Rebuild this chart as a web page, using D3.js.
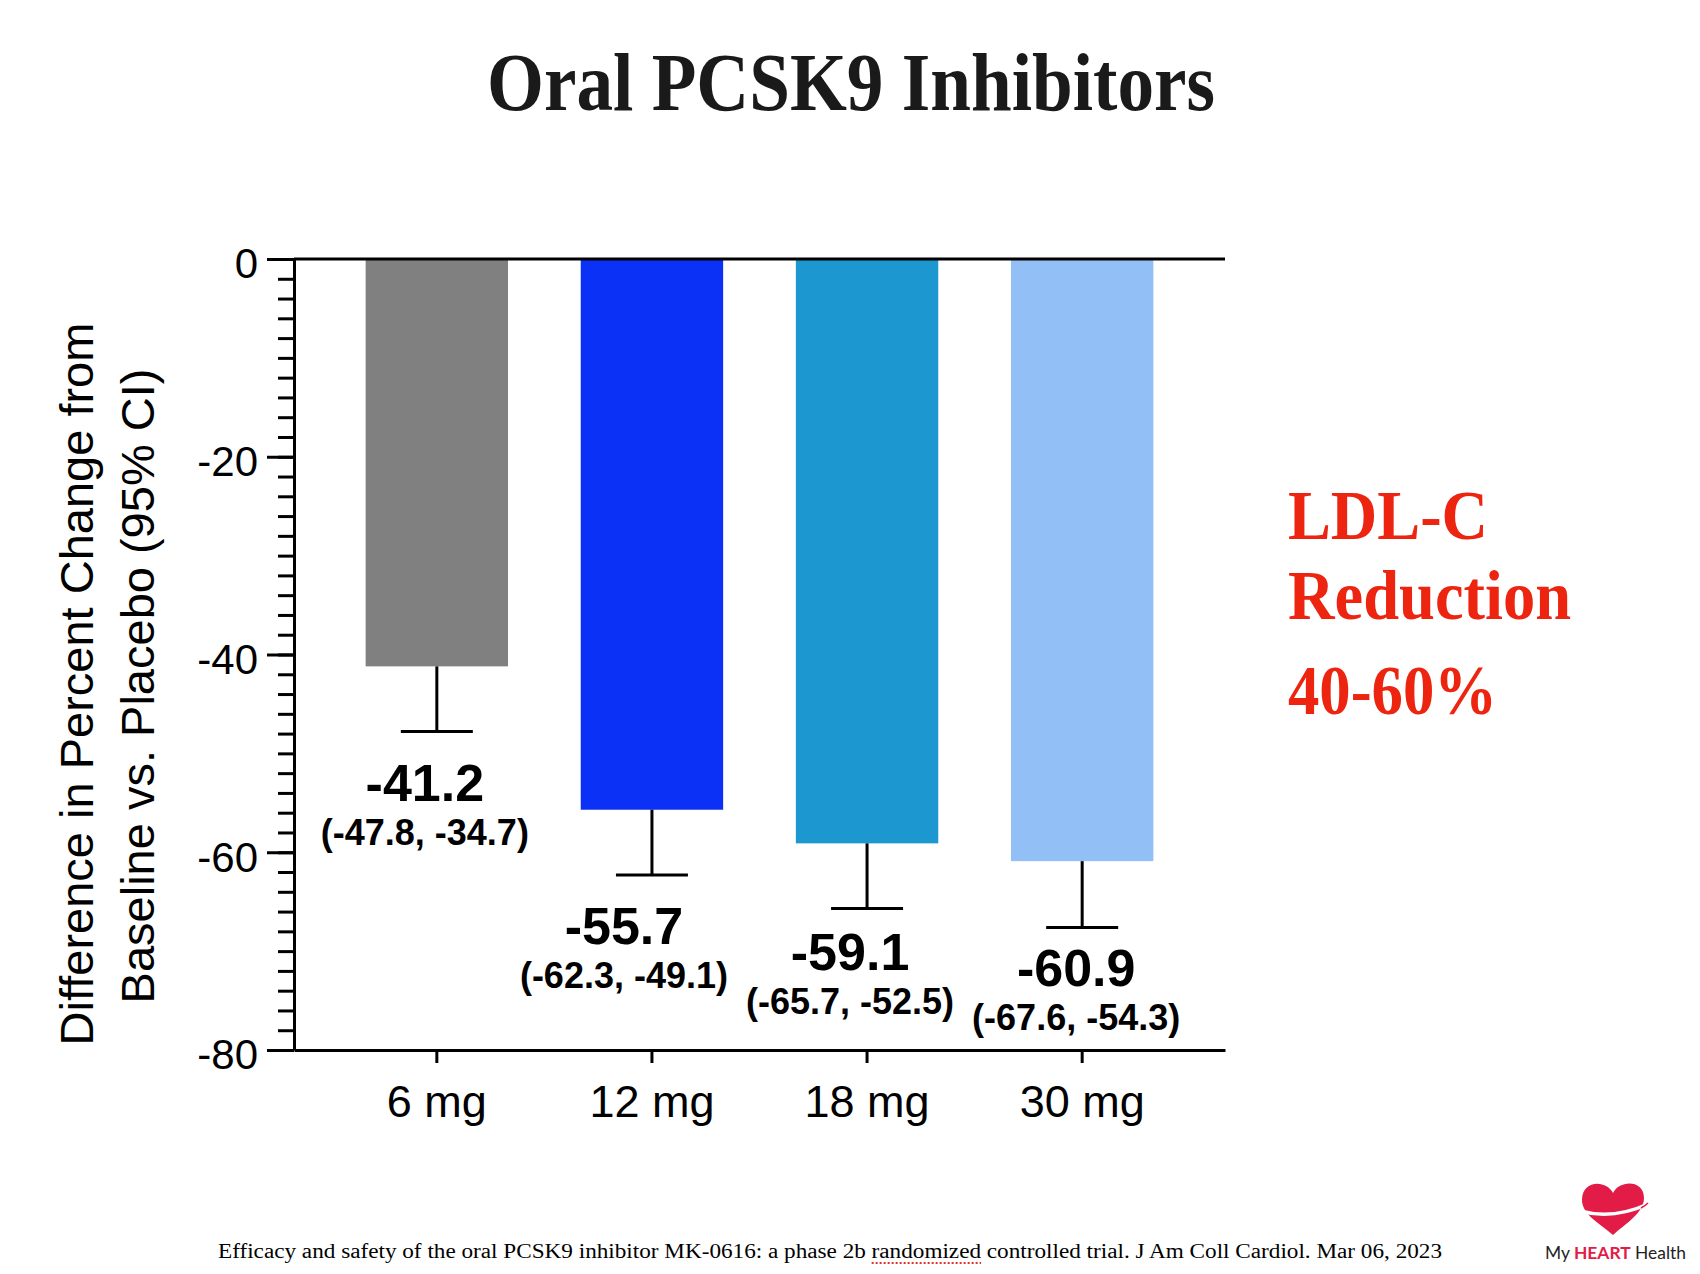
<!DOCTYPE html>
<html lang="en">
<head>
  <meta charset="UTF-8">
  <title>Oral PCSK9 Inhibitors</title>
  <style>
    body, html {
      margin: 0;
      padding: 0;
      background: #fff;
    }
    svg {
      display: block;
    }
  </style>
</head>
<body>
  <svg id="svg" width="1700" height="1274"></svg>

  <script src="https://cdn.jsdelivr.net/npm/d3@7"></script>
  <script>
    // data
    const doses = ['6 mg', '12 mg', '18 mg', '30 mg'];
    const meanDiff = [-41.2, -55.7, -59.1, -60.9];
    const ciLower = [-47.8, -62.3, -65.7, -67.6];
    const ciUpper = [-34.7, -49.1, -52.5, -54.3];
    const yTicks = [0, -20, -40, -60, -80];
    const yDomain = [-80, 0];

    const barColors = ['#808080', '#0b30f6', '#1c97cf', '#93bff7'];
    // small nudges for the value labels, as placed on the slide
    const labelDx = [-12, -28, -17, -6];
    const labelDy = [69, 69, 61, 59];

    const sans = "'Liberation Sans', Arial, sans-serif";
    const serif = "'Liberation Serif', 'Times New Roman', serif";

    const svg = d3.select('#svg');

    const x = d3.scaleBand()
      .domain(doses)
      .range([294, 1225])
      .paddingInner(0.338)
      .paddingOuter(0.333);

    const y = d3.scaleLinear()
      .domain(yDomain)
      .range([1050, 259]);

    const color = d3.scaleOrdinal(doses, barColors);

    const rows = doses.map((d, i) => ({
      dose: d,
      mean: meanDiff[i],
      lo: ciLower[i],
      hi: ciUpper[i],
      dx: labelDx[i],
      dy: labelDy[i]
    }));

    // Title
    svg.append('text')
      .attr('x', 851)
      .attr('y', 110)
      .attr('text-anchor', 'middle')
      .attr('textLength', 728)
      .attr('lengthAdjust', 'spacingAndGlyphs')
      .style('font-family', serif)
      .style('font-weight', 'bold')
      .style('font-size', '82px')
      .style('fill', '#1a1a1a')
      .text('Oral PCSK9 Inhibitors');

    // Bars
    svg.append('g')
      .selectAll('rect')
      .data(rows)
      .enter()
      .append('rect')
      .attr('x', d => x(d.dose))
      .attr('width', x.bandwidth())
      .attr('y', y(0))
      .attr('height', d => y(d.mean) - y(0))
      .attr('fill', d => color(d.dose));

    // Error bars (lower CI only, as drawn on the slide)
    const eb = svg.append('g')
      .attr('stroke', '#000')
      .attr('stroke-width', 3);

    eb.selectAll('line.stem')
      .data(rows)
      .enter()
      .append('line')
      .attr('class', 'stem')
      .attr('x1', d => x(d.dose) + x.bandwidth() / 2)
      .attr('x2', d => x(d.dose) + x.bandwidth() / 2)
      .attr('y1', d => y(d.mean))
      .attr('y2', d => y(d.lo));

    eb.selectAll('line.cap')
      .data(rows)
      .enter()
      .append('line')
      .attr('class', 'cap')
      .attr('x1', d => x(d.dose) + x.bandwidth() / 2 - 36)
      .attr('x2', d => x(d.dose) + x.bandwidth() / 2 + 36)
      .attr('y1', d => y(d.lo))
      .attr('y2', d => y(d.lo));

    // Value labels
    const labels = svg.append('g')
      .style('font-family', sans)
      .style('font-weight', 'bold')
      .attr('text-anchor', 'middle');

    labels.selectAll('text.val')
      .data(rows)
      .enter()
      .append('text')
      .attr('class', 'val')
      .attr('x', d => x(d.dose) + x.bandwidth() / 2 + d.dx)
      .attr('y', d => y(d.lo) + d.dy)
      .style('font-size', '52px')
      .text(d => d.mean.toFixed(1));

    labels.selectAll('text.ci')
      .data(rows)
      .enter()
      .append('text')
      .attr('class', 'ci')
      .attr('x', d => x(d.dose) + x.bandwidth() / 2 + d.dx)
      .attr('y', d => y(d.lo) + d.dy + 44)
      .style('font-size', '36px')
      .text(d => `(${d.lo.toFixed(1)}, ${d.hi.toFixed(1)})`);

    // Y axis: minor ticks every 2, major every 20
    const minor = svg.append('g')
      .attr('transform', `translate(${x.range()[0]},0)`)
      .call(d3.axisLeft(y).tickValues(d3.range(-80, 1, 2)).tickSize(16).tickFormat(''));
    minor.select('.domain').remove();
    minor.selectAll('line').attr('stroke-width', 3);

    const yAxis = svg.append('g')
      .attr('transform', `translate(${x.range()[0]},0)`)
      .call(d3.axisLeft(y)
        .tickValues(yTicks)
        .tickFormat(d => String(d))
        .tickSize(27)
        .tickSizeOuter(0)
        .tickPadding(9));
    yAxis.select('.domain').attr('stroke-width', 3);
    yAxis.selectAll('line').attr('stroke-width', 3);
    yAxis.selectAll('text')
      .attr('dy', '0.45em')
      .style('font-family', sans)
      .style('font-size', '42px')
      .style('fill', '#000');

    // X axis at the bottom
    const xAxis = svg.append('g')
      .attr('transform', `translate(0,${y(-80)})`)
      .call(d3.axisBottom(x).tickSize(13).tickSizeOuter(0));
    xAxis.select('.domain').attr('stroke-width', 3);
    xAxis.selectAll('line').attr('stroke-width', 3);
    xAxis.selectAll('text')
      .attr('y', 67)
      .attr('dy', 0)
      .style('font-family', sans)
      .style('font-size', '45px')
      .style('fill', '#000');

    // zero line across the top
    svg.append('line')
      .attr('x1', x.range()[0])
      .attr('x2', x.range()[1])
      .attr('y1', y(0))
      .attr('y2', y(0))
      .attr('stroke', '#000')
      .attr('stroke-width', 3);

    // Y axis label
    const ylab = svg.append('g')
      .style('font-family', sans)
      .style('font-size', '47px')
      .attr('text-anchor', 'middle');

    ylab.append('text')
      .attr('transform', 'translate(93,684) rotate(-90)')
      .text('Difference in Percent Change from');

    ylab.append('text')
      .attr('transform', 'translate(154,686) rotate(-90)')
      .text('Baseline vs. Placebo (95% CI)');

    // Red callout
    const callout = svg.append('g')
      .style('font-family', serif)
      .style('font-weight', 'bold')
      .style('font-size', '69px')
      .style('fill', '#ec2410');

    callout.append('text').attr('x', 1288).attr('y', 539)
      .attr('textLength', 200).attr('lengthAdjust', 'spacingAndGlyphs')
      .text('LDL-C');
    callout.append('text').attr('x', 1288).attr('y', 619)
      .attr('textLength', 283).attr('lengthAdjust', 'spacingAndGlyphs')
      .text('Reduction');
    callout.append('text').attr('x', 1288).attr('y', 714)
      .attr('textLength', 209).attr('lengthAdjust', 'spacingAndGlyphs')
      .text('40-60%');

    // Footer reference
    const refText = 'Efficacy and safety of the oral PCSK9 inhibitor MK-0616: a phase 2b randomized controlled trial. J Am Coll Cardiol. Mar 06, 2023';
    const footer = svg.append('text')
      .attr('x', 218)
      .attr('y', 1258)
      .style('font-family', serif)
      .style('font-size', '20px')
      .style('fill', '#000')
      .text(refText);

    const node = footer.node();
    const natural = node.getComputedTextLength();
    const target = 1224;
    const k = target / natural;
    const word = 'randomized';
    const at = refText.indexOf(word);
    const ux0 = 218 + node.getSubStringLength(0, at) * k;
    const uw = node.getSubStringLength(at, word.length) * k;
    footer.attr('textLength', target).attr('lengthAdjust', 'spacingAndGlyphs');

    // spell-check squiggle under "randomized"
    svg.append('line')
      .attr('x1', ux0)
      .attr('x2', ux0 + uw)
      .attr('y1', 1263)
      .attr('y2', 1263)
      .attr('stroke', '#e03030')
      .attr('stroke-width', 2)
      .attr('stroke-dasharray', '2,2');

    // Logo
    const logo = svg.append('g');
    const hx = 1613, hy = 1182;
    logo.append('path')
      .attr('d', `M${hx},${hy + 11}
        C${hx - 6},${hy - 2} ${hx - 31},${hy - 3} ${hx - 31},${hy + 18}
        C${hx - 31},${hy + 33} ${hx - 12},${hy + 42} ${hx},${hy + 53}
        C${hx + 12},${hy + 42} ${hx + 31},${hy + 31} ${hx + 31},${hy + 16}
        C${hx + 31},${hy - 3} ${hx + 6},${hy - 2} ${hx},${hy + 11} Z`)
      .attr('fill', '#e31c47');
    logo.append('path')
      .attr('d', `M${hx - 33},${hy + 29} Q${hx},${hy + 38} ${hx + 35},${hy + 22}`)
      .attr('fill', 'none')
      .attr('stroke', '#fff')
      .attr('stroke-width', 3.5);
    logo.append('path')
      .attr('d', `M${hx + 28},${hy + 26} Q${hx + 32},${hy + 24} ${hx + 35},${hy + 21}`)
      .attr('fill', 'none')
      .attr('stroke', '#e31c47')
      .attr('stroke-width', 1.5);

    const brand = logo.append('text')
      .attr('x', 1545)
      .attr('y', 1259)
      .attr('textLength', 141)
      .attr('lengthAdjust', 'spacingAndGlyphs')
      .style('font-family', "Lato, 'Open Sans', sans-serif")
      .style('font-size', '17px')
      .style('fill', '#222');
    brand.append('tspan').text('My ');
    brand.append('tspan').style('font-weight', 'bold').style('fill', '#e31c47').text('HEART');
    brand.append('tspan').text(' Health');
  </script>
</body>
</html>
